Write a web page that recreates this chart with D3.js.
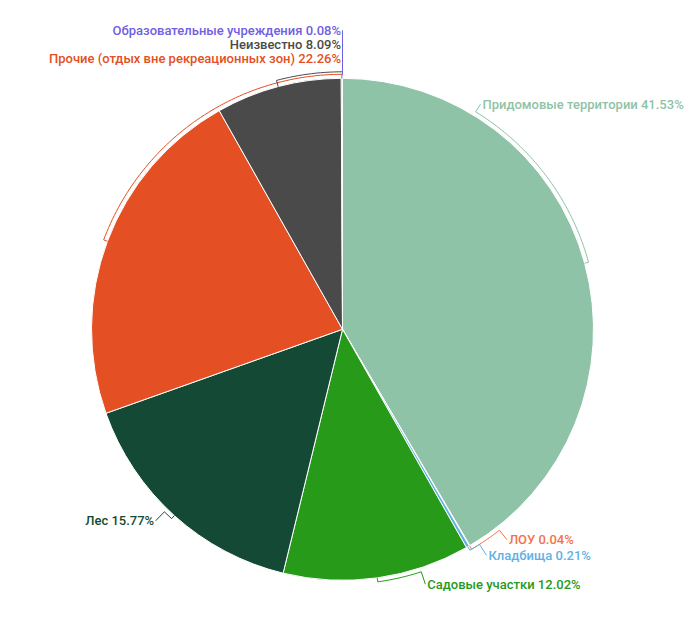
<!DOCTYPE html>
<html><head><meta charset="utf-8">
<script src="https://cdn.jsdelivr.net/npm/d3@7"></script>
<style>
body{margin:0;background:#fff}
svg{display:block}
text{font-family:Roboto, "Noto Sans", sans-serif;}
</style>
</head><body>
<svg id="chart" width="693" height="630"></svg>
<script>
// Data
const categories = ["Придомовые территории","ЛОУ","Кладбища","Садовые участки","Лес","Прочие (отдых вне рекреационных зон)","Неизвестно","Образовательные учреждения"];
const values = [41.53, 0.04, 0.21, 12.02, 15.77, 22.26, 8.09, 0.08];
const colors = ["#8fc3a7","#f4714a","#5fb1e6","#279a1a","#144a35","#e44f23","#4a4a4a","#7160e0"];
// label layout (degrees clockwise from top, leader arc offset, radial extension of leader)
const labelAngles = [31.5, 142, 147.5, 162, 224.3, 360, 360, 360];
const arcOffsets = [0, 0, 0, 0, 0, 0, 2.5, 0];
const labelExt = [9, 12, 13, 13, 12.5, 16, 27.5, 44];

const W = 693, H = 630, cx = 342.5, cy = 329.3, r = 251, rArc = 255;
const svg = d3.select("#chart");
const g = svg.append("g").attr("transform", `translate(${cx},${cy})`);

const pie = d3.pie().sort(null).value(d => d.v).startAngle(0).endAngle(2*Math.PI);
const data = categories.map((c,i) => ({name:c, v:values[i], color:colors[i], la:labelAngles[i]*Math.PI/180, off:arcOffsets[i], ext:labelExt[i]}));
const arcs = pie(data);
const arc = d3.arc().innerRadius(0).outerRadius(r);

g.selectAll("path.slice").data(arcs).join("path")
  .attr("class","slice")
  .attr("d", arc)
  .attr("fill", d => d.data.color)
  .attr("stroke", "#fff")
  .attr("stroke-width", 1);

const pt = (a, R) => [R*Math.sin(a), -R*Math.cos(a)];
const line = d3.line();

arcs.forEach(d => {
  const mid = (d.startAngle + d.endAngle)/2;
  const la = d.data.la;
  const R = rArc + d.data.off;
  const pts = [pt(mid, r), pt(mid, R)];
  const n = Math.max(2, Math.ceil(Math.abs(la - mid)*180/Math.PI));
  for (let k = 1; k <= n; k++) pts.push(pt(mid + (la - mid)*k/n, R));
  const p3 = pt(la, R + d.data.ext);
  pts.push(p3);
  g.append("path").attr("d", line(pts)).attr("fill","none")
    .attr("stroke", d.data.color).attr("stroke-width", 1);
  const deg = la*180/Math.PI;
  const right = deg > 0.5 && deg < 180;
  g.append("text")
    .attr("x", p3[0] + (right ? 2 : -1.5))
    .attr("y", p3[1])
    .attr("dy", "0.35em")
    .attr("text-anchor", right ? "start" : "end")
    .attr("font-size", 13)
    .attr("font-weight", 500)
    .attr("fill", d.data.color)
    .text(`${d.data.name} ${d.data.v.toFixed(2)}%`);
});
</script>
</body></html>
